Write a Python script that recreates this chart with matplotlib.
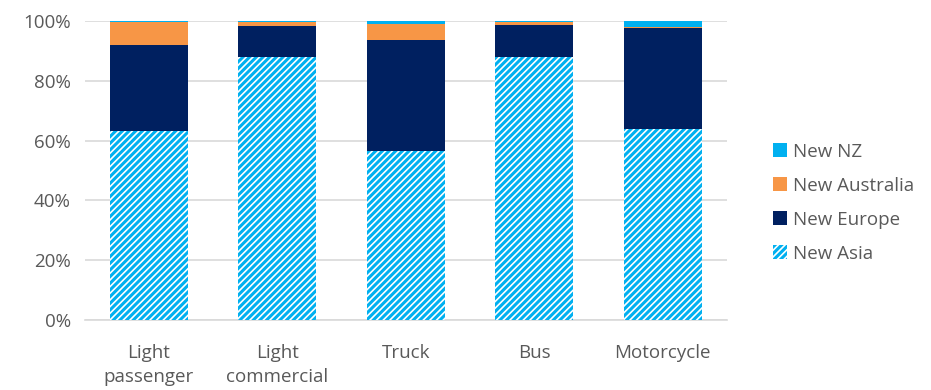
import numpy as np
import matplotlib
matplotlib.use('Agg')
from matplotlib import pyplot as plt
from matplotlib.ticker import PercentFormatter

plt.rcParams['font.family'] = ['Open Sans', 'DejaVu Sans']
plt.rcParams['hatch.linewidth'] = 2.2

# Data (shares of new registrations)
categories = ['Light\npassenger', 'Light\ncommercial', 'Truck', 'Bus', 'Motorcycle']
new_asia = [0.632, 0.880, 0.565, 0.880, 0.640]
new_europe = [0.288, 0.103, 0.371, 0.105, 0.337]
new_australia = [0.077, 0.012, 0.054, 0.010, 0.002]
new_nz = [0.003, 0.005, 0.010, 0.005, 0.021]

grey = '#595959'
fig = plt.figure(figsize=(9.31, 3.9), dpi=100)
ax = fig.add_axes([0.0908, 0.1795, 0.69, 0.767])

x = np.arange(len(categories))
w = 0.61
asia = np.array(new_asia)
europe = np.array(new_europe)
aus = np.array(new_australia)
nz = np.array(new_nz)

ax.bar(x, asia, w, color='white', edgecolor='#00B0F0', linewidth=0,
       hatch='/////', label='New Asia', zorder=3)
ax.bar(x, europe, w, bottom=asia, color='#002060', label='New Europe', zorder=3)
ax.bar(x, aus, w, bottom=asia + europe, color='#F79646', label='New Australia', zorder=3)
ax.bar(x, nz, w, bottom=asia + europe + aus, color='#00B0F0', label='New NZ', zorder=3)

ax.set_xlim(-0.5, len(categories) - 0.5)
ax.set_ylim(0, 1)
ax.set_yticks(np.arange(0, 1.01, 0.2))
ax.yaxis.set_major_formatter(PercentFormatter(1.0, decimals=0))
ax.grid(axis='y', color='#D9D9D9', linewidth=1.2, zorder=0)
for s in ['top', 'right', 'left']:
    ax.spines[s].set_visible(False)
ax.spines['bottom'].set_color('#D9D9D9')
ax.spines['bottom'].set_linewidth(1.2)
ax.set_xticks(x)
ax.set_xticklabels(categories, fontsize=13.5, color=grey, linespacing=1.45)
ax.tick_params(axis='y', labelsize=13.5, colors=grey, length=0, pad=10)
ax.tick_params(axis='x', length=0, pad=17)

handles, labels = ax.get_legend_handles_labels()
leg = fig.legend(handles[::-1], labels[::-1], loc='center left',
                 bbox_to_anchor=(0.822, 0.48), frameon=False, fontsize=13.5,
                 handlelength=0.75, handleheight=0.75, handletextpad=0.35,
                 labelspacing=0.85, labelcolor=grey, borderaxespad=0)

fig.savefig('out.png', dpi=100)
